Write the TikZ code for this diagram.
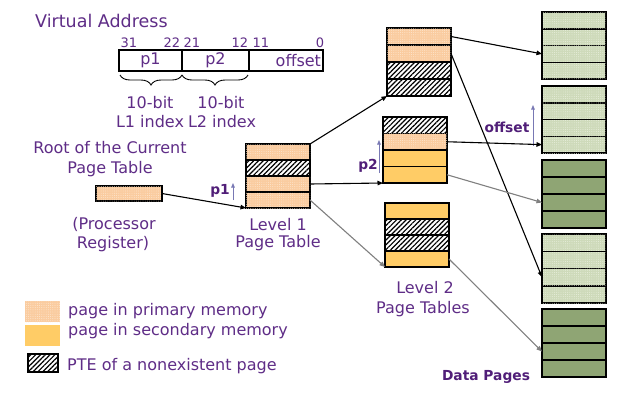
\documentclass[tikz,border=0pt]{standalone}
\usepackage{fontspec}
\setmainfont{DejaVu Sans}
\usetikzlibrary{arrows.meta,patterns.meta,decorations.pathreplacing,calc}
\definecolor{ctxt}{RGB}{95,45,135}
\definecolor{cbld}{RGB}{80,30,120}
\definecolor{cpri}{RGB}{250,204,160}
\definecolor{cpridot}{RGB}{254,234,214}
\definecolor{csec}{RGB}{255,204,102}
\definecolor{cgpri}{RGB}{206,218,186}
\definecolor{cgdot}{RGB}{236,242,226}
\definecolor{cgsec}{RGB}{143,165,116}
\definecolor{cup}{RGB}{120,120,180}
\definecolor{cgray}{RGB}{128,128,128}
\tikzset{
  cell/.style={draw=black, line width=1.5pt, inner sep=0pt, outer sep=0pt, minimum width=64pt},
  prim/.style={fill=cpri, postaction={pattern={Dots[distance=2.2pt,radius=0.45pt]}, pattern color=cpridot}},
  seco/.style={fill=csec},
  hatc/.style={fill=white, postaction={pattern={Lines[angle=45,distance=3.4pt,line width=1.2pt]}, pattern color=black}},
  gprim/.style={fill=cgpri, postaction={pattern={Dots[distance=2.2pt,radius=0.45pt]}, pattern color=cgdot}},
  gseco/.style={fill=cgsec},
  field/.style={draw=black, line width=1.5pt, inner sep=2pt, outer sep=0pt, minimum height=21pt, text=ctxt, font=\fontsize{16}{19}\selectfont},
  lbl/.style={text=ctxt, font=\fontsize{16}{19}\selectfont, inner sep=0pt, anchor=base},
  bitno/.style={text=ctxt, font=\fontsize{13}{15}\selectfont, inner sep=0pt, anchor=base},
  blbl/.style={text=cbld, font=\fontsize{13.8}{16}\selectfont\bfseries, inner sep=0pt, anchor=base},
  lnk/.style={draw=black, line width=1.1pt, -{Triangle[length=5.5pt,width=4.5pt]}},
  glnk/.style={lnk, draw=cgray},
  uparr/.style={draw=cup, line width=0.8pt, -{Triangle[length=4.5pt,width=3.5pt]}},
  brc/.style={draw=black, line width=0.9pt, decorate, decoration={brace, mirror, amplitude=10pt}}
}
\newcommand{\ptable}[8]{%
  \node[cell,#5,minimum height=#4pt,anchor=north west] (#1-1) at (#2,#3) {};
  \node[cell,#6,minimum height=#4pt,anchor=north] (#1-2) at (#1-1.south) {};
  \node[cell,#7,minimum height=#4pt,anchor=north] (#1-3) at (#1-2.south) {};
  \node[cell,#8,minimum height=#4pt,anchor=north] (#1-4) at (#1-3.south) {};
}
\begin{document}
\begin{tikzpicture}[x=1pt,y=-1pt]
\fill[white] (0,0) rectangle (630,400);
\useasboundingbox (0,0) rectangle (630,400);

% Virtual address
\node[lbl, anchor=base west, font=\fontsize{17.5}{20}\selectfont] (va) at (35,27) {Virtual Address};
\node[bitno] (n31) at (129,47) {31};
\node[bitno] (n22) at (172,47) {22};
\node[bitno] (n21) at (192,47) {21};
\node[bitno] (n12) at (240,47) {12};
\node[bitno] (n11) at (261,47) {11};
\node[bitno] (n0) at (320,47) {0};
\node[field, minimum width=63pt, anchor=north west] (fp1) at (119,50) {p1};
\node[field, minimum width=67pt, anchor=north west] (fp2) at (fp1.north east) {p2};
\node[field, minimum width=74pt, text width=70pt, align=right, anchor=north west] (fo) at (fp2.north east) {offset};
\coordinate (b1) at (120,75);
\coordinate (b2) at (182,75);
\coordinate (b3) at (248,75);
\draw[brc] (b1) -- (b2);
\draw[brc] (b2) -- (b3);
\node[lbl] (t10a) at (150,108) {10-bit};
\node[lbl] (t10b) at (221,108) {10-bit};
\node[lbl] (tl1) at (150,127) {L1 index};
\node[lbl] (tl2) at (222,127) {L2 index};

% Root register
\node[lbl] (root1) at (110,153) {Root of the Current};
\node[lbl] (root2) at (110,173) {Page Table};
\node[cell, prim, minimum width=66pt, minimum height=15pt, anchor=north west] (reg) at (96,186) {};
\node[lbl] (proc1) at (114,229) {(Processor};
\node[lbl] (proc2) at (113,248) {Register)};

% Level 1
\ptable{L1}{246}{144}{16}{prim}{hatc}{prim}{prim}
\node[lbl] (lev1a) at (278,230) {Level 1};
\node[lbl] (lev1b) at (278,247) {Page Table};
\node[blbl] (p1) at (220,194) {p1};
\coordinate (u1s) at (233,200);
\coordinate (u1e) at (233,183);
\draw[uparr] (u1s) -- (u1e);

% Level 2
\ptable{A}{387}{28}{17}{prim}{prim}{hatc}{hatc}
\ptable{B}{383}{117}{16.5}{hatc}{prim}{seco}{seco}
\ptable{C}{385}{203}{16}{seco}{hatc}{hatc}{seco}
\node[lbl] (lev2a) at (425,293) {Level 2};
\node[lbl] (lev2b) at (423,313) {Page Tables};
\node[blbl] (p2) at (368,169) {p2};
\coordinate (u2s) at (379,173);
\coordinate (u2e) at (379,140);
\draw[uparr] (u2s) -- (u2e);

% Data pages
\ptable{D1}{542}{12}{16.75}{gprim}{gprim}{gprim}{gprim}
\ptable{D2}{542}{86}{16.75}{gprim}{gprim}{gprim}{gprim}
\ptable{D3}{542}{160}{17}{gseco}{gseco}{gseco}{gseco}
\ptable{D4}{542}{234}{17.25}{gprim}{gprim}{gprim}{gprim}
\ptable{D5}{542}{309}{17}{gseco}{gseco}{gseco}{gseco}
\node[blbl] (offl) at (507,132) {offset};
\coordinate (u3s) at (533,146);
\coordinate (u3e) at (533,105);
\draw[uparr] (u3s) -- (u3e);
\node[blbl] (dp) at (486,380) {Data Pages};

% Links
\draw[lnk] (reg.east) -- (L1-4.south west);
\draw[lnk] (L1-1.north east) -- (A-4.south west);
\draw[lnk] (L1-3.east) -- (B-4.south west);
\draw[glnk] (L1-4.east) -- (C-4.south west);
\draw[lnk] (A-1.east) -- (D1-3.west);
\draw[lnk] (A-2.east) -- (D4-3.west);
\draw[lnk] (B-2.east) -- (D2-4.west);
\draw[glnk] (B-4.east) -- (D3-3.west);
\draw[glnk] (C-4.east) -- (D5-3.west);

% Legend
\node[prim, inner sep=0pt, minimum width=35pt, minimum height=21pt, anchor=north west] (lg1) at (25,301) {};
\node[seco, inner sep=0pt, minimum width=35pt, minimum height=21pt, anchor=north west] (lg2) at (25,325) {};
\node[cell, hatc, minimum width=30pt, minimum height=18pt, anchor=north west] (lg3) at (28,354) {};
\node[lbl, anchor=base west] (lt1) at (68,315) {page in primary memory};
\node[lbl, anchor=base west] (lt2) at (68,335) {page in secondary memory};
\node[lbl, anchor=base west] (lt3) at (67,370) {PTE of a nonexistent page};
\end{tikzpicture}
\end{document}
